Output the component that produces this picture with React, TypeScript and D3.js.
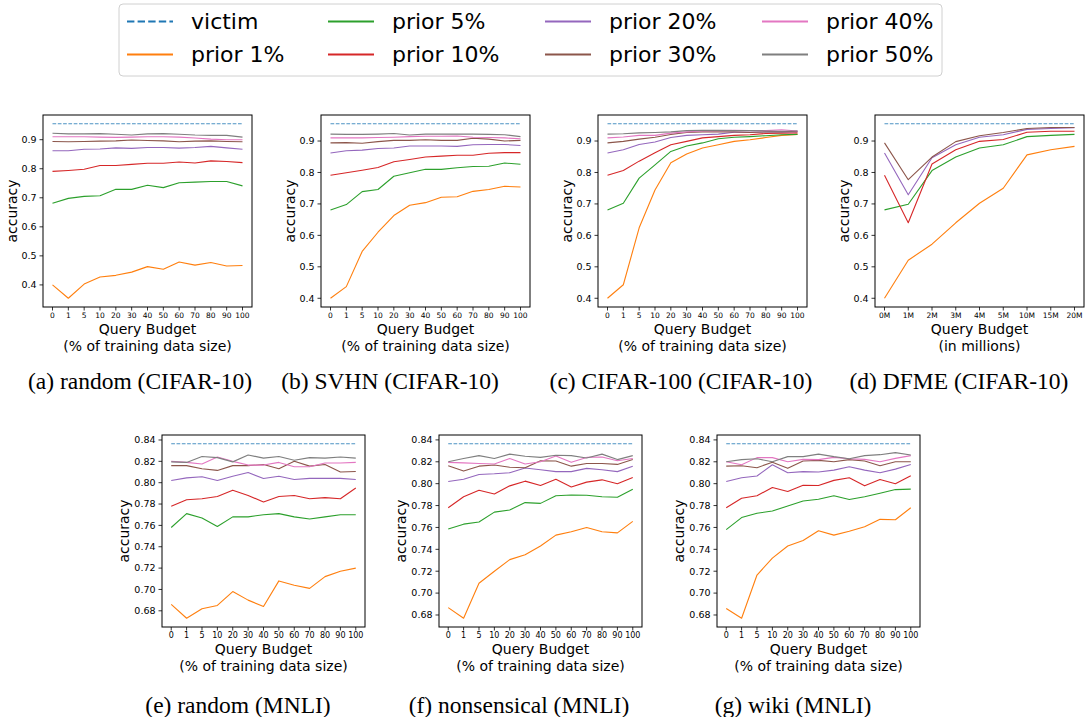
import React from "react";
import * as d3 from "d3";

// ---------- categories / ticks ----------
const pctBudgets = ["0", "1", "5", "10", "20", "30", "40", "50", "60", "70", "80", "90", "100"];
const millionBudgets = ["0M", "1M", "2M", "3M", "4M", "5M", "10M", "15M", "20M"];
const cifarTicks = [0.4, 0.5, 0.6, 0.7, 0.8, 0.9];
const mnliTicks = [0.68, 0.7, 0.72, 0.74, 0.76, 0.78, 0.8, 0.82, 0.84];

const seriesNames = ["prior 1%", "prior 5%", "prior 10%", "prior 20%", "prior 30%", "prior 40%", "prior 50%"];
const seriesColors = ["#ff7f0e", "#2ca02c", "#d62728", "#9467bd", "#8c564b", "#e377c2", "#7f7f7f"];
const victimColor = "#1f77b4";

const victimCifar = 0.955;
const victimMnli = 0.8365;

// ---------- (a) random (CIFAR-10) ----------
const randCifarP1 = [0.4, 0.354, 0.403, 0.427, 0.433, 0.444, 0.463, 0.454, 0.479, 0.468, 0.477, 0.465, 0.467];
const randCifarP5 = [0.681, 0.698, 0.705, 0.707, 0.729, 0.729, 0.743, 0.735, 0.752, 0.754, 0.756, 0.756, 0.741];
const randCifarP10 = [0.791, 0.794, 0.798, 0.811, 0.811, 0.815, 0.819, 0.819, 0.823, 0.82, 0.827, 0.825, 0.821];
const randCifarP20 = [0.862, 0.862, 0.867, 0.868, 0.872, 0.87, 0.873, 0.873, 0.871, 0.873, 0.877, 0.872, 0.867];
const randCifarP30 = [0.894, 0.893, 0.894, 0.895, 0.896, 0.899, 0.897, 0.896, 0.893, 0.895, 0.896, 0.894, 0.893];
const randCifarP40 = [0.91, 0.91, 0.91, 0.909, 0.908, 0.909, 0.91, 0.91, 0.909, 0.906, 0.902, 0.9, 0.9];
const randCifarP50 = [0.922, 0.92, 0.92, 0.921, 0.919, 0.916, 0.92, 0.921, 0.919, 0.916, 0.915, 0.915, 0.909];

// ---------- (b) SVHN (CIFAR-10) ----------
const svhnP1 = [0.4, 0.437, 0.549, 0.61, 0.663, 0.696, 0.704, 0.721, 0.723, 0.74, 0.746, 0.756, 0.754];
const svhnP5 = [0.681, 0.698, 0.739, 0.746, 0.788, 0.799, 0.81, 0.81, 0.815, 0.819, 0.82, 0.83, 0.826];
const svhnP10 = [0.791, 0.799, 0.807, 0.816, 0.834, 0.841, 0.849, 0.852, 0.855, 0.855, 0.861, 0.863, 0.863];
const svhnP20 = [0.862, 0.869, 0.871, 0.876, 0.878, 0.884, 0.884, 0.884, 0.883, 0.888, 0.889, 0.889, 0.886];
const svhnP30 = [0.894, 0.895, 0.893, 0.898, 0.902, 0.902, 0.904, 0.902, 0.902, 0.909, 0.906, 0.9, 0.902];
const svhnP40 = [0.91, 0.91, 0.91, 0.911, 0.912, 0.914, 0.915, 0.915, 0.916, 0.912, 0.911, 0.91, 0.907];
const svhnP50 = [0.922, 0.921, 0.921, 0.922, 0.924, 0.919, 0.922, 0.922, 0.922, 0.922, 0.921, 0.92, 0.914];

// ---------- (c) CIFAR-100 (CIFAR-10) ----------
const c100P1 = [0.4, 0.443, 0.624, 0.744, 0.831, 0.859, 0.878, 0.888, 0.899, 0.904, 0.911, 0.918, 0.921];
const c100P5 = [0.681, 0.702, 0.782, 0.824, 0.867, 0.884, 0.894, 0.907, 0.912, 0.914, 0.917, 0.92, 0.921];
const c100P10 = [0.791, 0.806, 0.836, 0.863, 0.888, 0.899, 0.91, 0.914, 0.918, 0.92, 0.924, 0.925, 0.926];
const c100P20 = [0.862, 0.872, 0.889, 0.897, 0.911, 0.918, 0.92, 0.922, 0.928, 0.928, 0.929, 0.929, 0.93];
const c100P30 = [0.894, 0.899, 0.906, 0.912, 0.921, 0.927, 0.929, 0.929, 0.929, 0.927, 0.929, 0.929, 0.931];
const c100P40 = [0.91, 0.913, 0.918, 0.918, 0.925, 0.929, 0.932, 0.933, 0.934, 0.933, 0.933, 0.936, 0.932];
const c100P50 = [0.922, 0.923, 0.926, 0.927, 0.929, 0.933, 0.934, 0.934, 0.933, 0.933, 0.932, 0.931, 0.932];

// ---------- (d) DFME (CIFAR-10) ----------
const dfmeP1 = [0.4, 0.521, 0.572, 0.64, 0.702, 0.75, 0.856, 0.872, 0.883];
const dfmeP5 = [0.681, 0.699, 0.806, 0.849, 0.878, 0.888, 0.914, 0.918, 0.921];
const dfmeP10 = [0.791, 0.64, 0.827, 0.872, 0.899, 0.905, 0.928, 0.931, 0.931];
const dfmeP20 = [0.862, 0.729, 0.847, 0.888, 0.912, 0.92, 0.937, 0.94, 0.942];
const dfmeP30 = [0.894, 0.777, 0.849, 0.898, 0.917, 0.927, 0.94, 0.943, 0.943];

// ---------- (e) random (MNLI) ----------
const randMnliP1 = [0.686, 0.673, 0.682, 0.685, 0.698, 0.69, 0.684, 0.708, 0.704, 0.701, 0.712, 0.717, 0.72];
const randMnliP5 = [0.758, 0.771, 0.767, 0.759, 0.768, 0.768, 0.77, 0.771, 0.768, 0.766, 0.768, 0.77, 0.77];
const randMnliP10 = [0.778, 0.784, 0.785, 0.787, 0.793, 0.788, 0.782, 0.787, 0.788, 0.785, 0.786, 0.785, 0.795];
const randMnliP20 = [0.802, 0.8045, 0.8055, 0.802, 0.806, 0.8095, 0.804, 0.806, 0.803, 0.804, 0.804, 0.804, 0.803];
const randMnliP30 = [0.816, 0.816, 0.813, 0.8115, 0.816, 0.816, 0.817, 0.813, 0.82, 0.8155, 0.817, 0.81, 0.8105];
const randMnliP40 = [0.82, 0.819, 0.8175, 0.824, 0.82, 0.8165, 0.8165, 0.819, 0.815, 0.815, 0.8185, 0.8185, 0.819];
const randMnliP50 = [0.8195, 0.819, 0.8245, 0.8235, 0.8195, 0.826, 0.823, 0.8245, 0.821, 0.8235, 0.823, 0.824, 0.823];

// ---------- (f) nonsensical (MNLI) ----------
const nonsP1 = [0.6867, 0.677, 0.709, 0.72, 0.7306, 0.735, 0.743, 0.753, 0.756, 0.76, 0.756, 0.755, 0.7655];
const nonsP5 = [0.7585, 0.763, 0.765, 0.774, 0.776, 0.7827, 0.782, 0.789, 0.7897, 0.7894, 0.788, 0.7876, 0.795];
const nonsP10 = [0.778, 0.788, 0.794, 0.7906, 0.798, 0.8023, 0.7983, 0.804, 0.797, 0.8014, 0.8035, 0.8, 0.8057];
const nonsP20 = [0.802, 0.804, 0.8084, 0.809, 0.81, 0.8143, 0.8127, 0.811, 0.811, 0.814, 0.8127, 0.811, 0.816];
const nonsP30 = [0.8164, 0.8115, 0.816, 0.817, 0.815, 0.8146, 0.821, 0.8207, 0.816, 0.8185, 0.8185, 0.8176, 0.822];
const nonsP40 = [0.8195, 0.819, 0.8185, 0.818, 0.823, 0.818, 0.82, 0.8253, 0.8195, 0.824, 0.8244, 0.821, 0.823];
const nonsP50 = [0.82, 0.823, 0.8256, 0.823, 0.827, 0.825, 0.824, 0.826, 0.8256, 0.8235, 0.827, 0.822, 0.8256];

// ---------- (g) wiki (MNLI) ----------
const wikiP1 = [0.686, 0.677, 0.7165, 0.732, 0.743, 0.748, 0.757, 0.753, 0.7566, 0.7606, 0.7674, 0.767, 0.778];
const wikiP5 = [0.758, 0.769, 0.773, 0.775, 0.7796, 0.7842, 0.7857, 0.789, 0.7855, 0.788, 0.7913, 0.7946, 0.795];
const wikiP10 = [0.778, 0.7867, 0.789, 0.7965, 0.7928, 0.7986, 0.7983, 0.803, 0.8054, 0.798, 0.8038, 0.8, 0.8072];
const wikiP20 = [0.802, 0.8054, 0.807, 0.8173, 0.81, 0.811, 0.8106, 0.8124, 0.8155, 0.8124, 0.81, 0.8133, 0.8176];
const wikiP30 = [0.816, 0.8164, 0.8146, 0.8195, 0.814, 0.8207, 0.8213, 0.82, 0.822, 0.8207, 0.8164, 0.82, 0.82];
const wikiP40 = [0.82, 0.8173, 0.8238, 0.8238, 0.82, 0.8222, 0.822, 0.824, 0.8228, 0.8222, 0.82, 0.8231, 0.8256];
const wikiP50 = [0.82, 0.822, 0.8228, 0.82, 0.8247, 0.8247, 0.827, 0.8247, 0.8228, 0.8256, 0.8265, 0.8284, 0.8262];

// ---------- panel tables (built from the arrays above) ----------
type PanelData = {
  caption: string;
  budgets: string[];
  subLabel: string;
  ticks: number[];
  tickDigits: number;
  victim: number;
  series: number[][];
};

const topPanels: PanelData[] = [
  { caption: "(a) random (CIFAR-10)", budgets: pctBudgets, subLabel: "(% of training data size)", ticks: cifarTicks, tickDigits: 1, victim: victimCifar,
    series: [randCifarP1, randCifarP5, randCifarP10, randCifarP20, randCifarP30, randCifarP40, randCifarP50] },
  { caption: "(b) SVHN (CIFAR-10)", budgets: pctBudgets, subLabel: "(% of training data size)", ticks: cifarTicks, tickDigits: 1, victim: victimCifar,
    series: [svhnP1, svhnP5, svhnP10, svhnP20, svhnP30, svhnP40, svhnP50] },
  { caption: "(c) CIFAR-100 (CIFAR-10)", budgets: pctBudgets, subLabel: "(% of training data size)", ticks: cifarTicks, tickDigits: 1, victim: victimCifar,
    series: [c100P1, c100P5, c100P10, c100P20, c100P30, c100P40, c100P50] },
  { caption: "(d) DFME (CIFAR-10)", budgets: millionBudgets, subLabel: "(in millions)", ticks: cifarTicks, tickDigits: 1, victim: victimCifar,
    series: [dfmeP1, dfmeP5, dfmeP10, dfmeP20, dfmeP30] },
];

const bottomPanels: PanelData[] = [
  { caption: "(e) random (MNLI)", budgets: pctBudgets, subLabel: "(% of training data size)", ticks: mnliTicks, tickDigits: 2, victim: victimMnli,
    series: [randMnliP1, randMnliP5, randMnliP10, randMnliP20, randMnliP30, randMnliP40, randMnliP50] },
  { caption: "(f) nonsensical (MNLI)", budgets: pctBudgets, subLabel: "(% of training data size)", ticks: mnliTicks, tickDigits: 2, victim: victimMnli,
    series: [nonsP1, nonsP5, nonsP10, nonsP20, nonsP30, nonsP40, nonsP50] },
  { caption: "(g) wiki (MNLI)", budgets: pctBudgets, subLabel: "(% of training data size)", ticks: mnliTicks, tickDigits: 2, victim: victimMnli,
    series: [wikiP1, wikiP5, wikiP10, wikiP20, wikiP30, wikiP40, wikiP50] },
];

// ---------- layout ----------
const W = 1086;
const H = 717;
const SANS = "'DejaVu Sans', sans-serif";
const SERIF = "'Liberation Serif', 'Times New Roman', serif";

const topLayout = { xs: [43, 321, 598, 875], y: 115, w: 209, h: 192, ylabOff: 31, xTickFont: 7.5, captionY: 389, captionX: [140, 390, 681, 959] };
const bottomLayout = { xs: [162, 439, 717], y: 435, w: 203, h: 192, ylabOff: 38, xTickFont: 8, captionY: 713, captionX: [238, 519, 793] };

function Panel({ p, x0, y0, w, h, ylabOff, xTickFont, captionX, captionY }: {
  p: PanelData; x0: number; y0: number; w: number; h: number; ylabOff: number; xTickFont: number; captionX: number; captionY: number;
}) {
  const n = p.budgets.length;
  const span = n - 1;
  const x = d3.scaleLinear().domain([-0.05 * span, span * 1.05]).range([x0, x0 + w]);
  const all = p.series.flat().concat([p.victim]);
  const mn = d3.min(all) as number;
  const mx = d3.max(all) as number;
  const pad = (mx - mn) * 0.05;
  const y = d3.scaleLinear().domain([mn - pad, mx + pad]).range([y0 + h, y0]);
  const line = d3.line<number>().x((_, i) => x(i)).y((d) => y(d));
  const victimLine = line(p.budgets.map(() => p.victim)) as string;
  const fmt = d3.format(`.${p.tickDigits}f`);
  const bottom = y0 + h;

  return (
    <g>
      <defs>
        <clipPath id={`clip-${x0}-${y0}`}>
          <rect x={x0} y={y0} width={w} height={h} />
        </clipPath>
      </defs>
      <g clipPath={`url(#clip-${x0}-${y0})`}>
        <path d={victimLine} fill="none" stroke={victimColor} strokeWidth={1.1} strokeDasharray="3.7,1.6" opacity={0.8} />
        {p.series.map((s, k) => (
          <path key={k} d={line(s) as string} fill="none" stroke={seriesColors[k]} strokeWidth={1.1} strokeLinejoin="round" />
        ))}
      </g>
      <rect x={x0} y={y0} width={w} height={h} fill="none" stroke="#000" strokeWidth={1} />
      {p.ticks.map((t) => (
        <g key={t}>
          <line x1={x0 - 3.5} x2={x0} y1={y(t)} y2={y(t)} stroke="#000" strokeWidth={0.8} />
          <text x={x0 - 6.5} y={y(t)} dy="0.35em" textAnchor="end" fontFamily={SANS} fontSize={9.5} fill="#000">{fmt(t)}</text>
        </g>
      ))}
      {p.budgets.map((b, i) => (
        <g key={b}>
          <line x1={x(i)} x2={x(i)} y1={bottom} y2={bottom + 3.5} stroke="#000" strokeWidth={0.8} />
          <text x={x(i)} y={bottom + 11} textAnchor="middle" fontFamily={SANS} fontSize={xTickFont} fill="#000">{b}</text>
        </g>
      ))}
      <text x={x0 + w / 2} y={bottom + 26.5} textAnchor="middle" fontFamily={SANS} fontSize={14} fill="#000">Query Budget</text>
      <text x={x0 + w / 2} y={bottom + 43.5} textAnchor="middle" fontFamily={SANS} fontSize={14} fill="#000">{p.subLabel}</text>
      <text transform={`translate(${x0 - ylabOff},${y0 + h / 2}) rotate(-90)`} textAnchor="middle" dy="0.35em" fontFamily={SANS} fontSize={14} fill="#000">accuracy</text>
      <text x={captionX} y={captionY} textAnchor="middle" fontFamily={SERIF} fontSize={23.5} fill="#000">{p.caption}</text>
    </g>
  );
}

function Legend() {
  const entries = [{ name: "victim", color: victimColor, dashed: true }].concat(
    seriesNames.map((s, i) => ({ name: s, color: seriesColors[i], dashed: false }))
  );
  const colX = [127, 328, 545, 762];
  const rowY = [21.5, 54.5];
  return (
    <g>
      <rect x={119} y={4} width={823} height={72} rx={4} fill="#fff" fillOpacity={0.8} stroke="#d0d0d0" strokeWidth={1} />
      {entries.map((e, i) => {
        const col = Math.floor(i / 2);
        const row = i % 2;
        const lx = colX[col];
        const ly = rowY[row];
        return (
          <g key={e.name}>
            <line x1={lx} x2={lx + 46} y1={ly} y2={ly} stroke={e.color} strokeWidth={2} strokeDasharray={e.dashed ? "7.4,3.2" : undefined} />
            <text x={lx + 64} y={ly} dy="0.36em" fontFamily={SANS} fontSize={22} fill="#000">{e.name}</text>
          </g>
        );
      })}
    </g>
  );
}

export default function App() {
  return (
    <svg width={W} height={H} viewBox={`0 0 ${W} ${H}`} style={{ position: "absolute", left: 0, top: 0, background: "#fff" }}>
      <rect x={0} y={0} width={W} height={H} fill="#fff" />
      <Legend />
      {topPanels.map((p, i) => (
        <Panel key={p.caption} p={p} x0={topLayout.xs[i]} y0={topLayout.y} w={topLayout.w} h={topLayout.h} ylabOff={topLayout.ylabOff}
          xTickFont={topLayout.xTickFont} captionX={topLayout.captionX[i]} captionY={topLayout.captionY} />
      ))}
      {bottomPanels.map((p, i) => (
        <Panel key={p.caption} p={p} x0={bottomLayout.xs[i]} y0={bottomLayout.y} w={bottomLayout.w} h={bottomLayout.h} ylabOff={bottomLayout.ylabOff}
          xTickFont={bottomLayout.xTickFont} captionX={bottomLayout.captionX[i]} captionY={bottomLayout.captionY} />
      ))}
    </svg>
  );
}
